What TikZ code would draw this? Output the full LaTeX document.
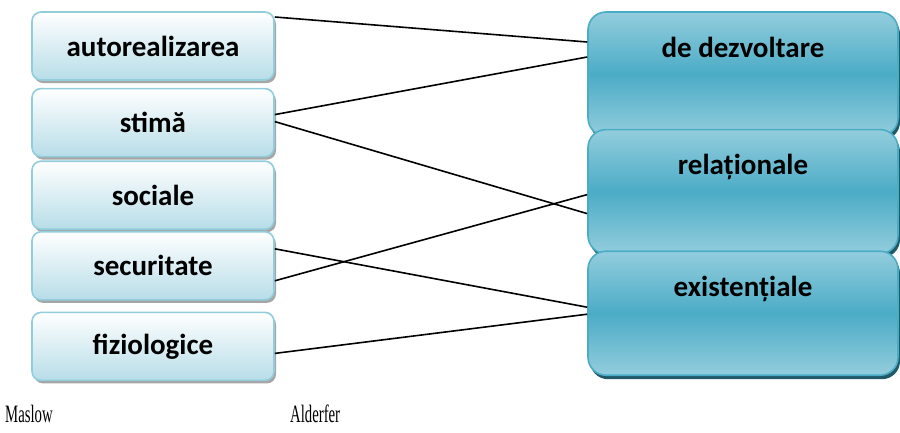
\documentclass[tikz,border=0pt]{standalone}
\usepackage{fontspec}
\setmainfont{Liberation Serif}
\newfontfamily\boxfont{Carlito}
\usepackage{tikz}
\usetikzlibrary{positioning, shadows}
\definecolor{maslowedge}{RGB}{146,205,220}
\definecolor{maslowfill}{RGB}{183,221,232}
\definecolor{alderlight}{RGB}{147,205,221}
\definecolor{aldermid}{RGB}{75,172,198}
\definecolor{aldershade}{RGB}{33,89,104}

\begin{document}
\begin{tikzpicture}[
    x=1pt, y=1pt,
    lbox/.style={
      rectangle, rounded corners=9pt, draw=maslowedge, line width=1.6pt,
      minimum width=242pt, minimum height=68pt, inner sep=0pt,
      top color=white, bottom color=maslowfill,
      drop shadow={shadow xshift=2pt, shadow yshift=-3pt, fill=gray!70, opacity=1},
      font=\boxfont\fontsize{29}{34}\selectfont\bfseries
    },
    rbox/.style={
      rectangle, rounded corners=18pt, draw=aldermid, line width=1.6pt,
      minimum width=310pt, inner xsep=0pt, inner ysep=0pt,
      text height=45pt, text depth=79pt,
      top color=alderlight, bottom color=alderlight, middle color=aldermid,
      drop shadow={shadow xshift=2pt, shadow yshift=-4pt, fill=aldershade, opacity=1},
      font=\boxfont\fontsize{29}{34}\selectfont\bfseries
    },
    lnk/.style={line width=1.6pt, black},
    lbl/.style={font=\fontsize{25}{28}\selectfont, inner sep=0pt, anchor=base west}
  ]
    \useasboundingbox (0,0) rectangle (900,-432);

    % Maslow column
    \node[lbox] (auto) at (153,-46) {autorealizarea};
    \node[lbox, below=7pt of auto]   (stima) {stimă};
    \node[lbox, below=3pt of stima]  (soc)   {sociale};
    \node[lbox, below=1pt of soc]    (secur) {securitate};
    \node[lbox, below=11pt of secur] (fizio) {fiziologice};

    % Alderfer column
    \node[rbox] (dezv) at (743,-74) {de dezvoltare};
    \node[rbox, below=-8pt of dezv]  (relat) {relaționale};
    \node[rbox, below=-4pt of relat] (exist) {existențiale};

    % links between levels
    \draw[lnk] ([yshift=29pt]auto.east)   -- ([yshift=32pt]dezv.west);
    \draw[lnk] ([yshift=8pt]stima.east)   -- ([yshift=17pt]dezv.west);
    \draw[lnk] ([yshift=1pt]stima.east)   -- ([yshift=-22pt]relat.west);
    \draw[lnk] ([yshift=17pt]secur.east)  -- ([yshift=6pt]exist.west);
    \draw[lnk] ([yshift=-15pt]secur.east) -- ([yshift=-3pt]relat.west);
    \draw[lnk] ([yshift=-7pt]fizio.east)  -- ([yshift=-1pt]exist.west);

    % column captions
    \node[lbl] (maslow) at (5,-422)   {\scalebox{0.59}[1]{Maslow}};
    \node[lbl] (alder)  at (290,-422) {\scalebox{0.59}[1]{Alderfer}};
\end{tikzpicture}
\end{document}
